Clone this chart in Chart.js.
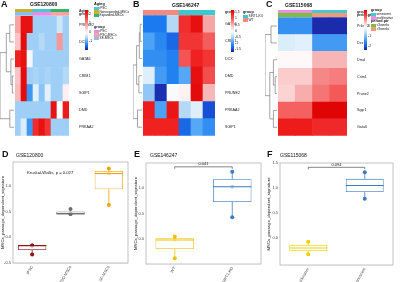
<!DOCTYPE html>
<html lang="en">
<head>
<meta charset="UTF-8" />
<title>Passage signature figure</title>
<script src="https://cdn.jsdelivr.net/npm/chart.js"></script>
<style>
  body { margin: 0; background: #fff; font-family: "Liberation Sans", Arial, sans-serif; }
  #wrap { position: relative; width: 400px; height: 282px; overflow: hidden; }
  canvas { position: absolute; }
  .t { position: absolute; white-space: nowrap; color: #111; line-height: 1; }
  .L { font-weight: bold; font-size: 9px; }
  .g { font-size: 5px; }
  .sw { position: absolute; }
</style>
</head>
<body>
<div id="wrap">
  <canvas id="cA" width="133" height="140" style="left:0;top:0"></canvas>
  <canvas id="cB" width="132" height="140" style="left:133px;top:0"></canvas>
  <canvas id="cC" width="135" height="140" style="left:265px;top:0"></canvas>
  <canvas id="cD" width="133" height="142" style="left:0;top:140px"></canvas>
  <canvas id="cE" width="133" height="142" style="left:133px;top:140px"></canvas>
  <canvas id="cF" width="134" height="142" style="left:266px;top:140px"></canvas>

  <div class="t L" style="left:1px;top:0px">A</div>
  <div class="t g" style="left:30px;top:2px;font-weight:bold">GSE120800</div>
  <div class="t L" style="left:133px;top:0px">B</div>
  <div class="t g" style="left:172px;top:3px;font-weight:bold">GSE146247</div>
  <div class="t L" style="left:266px;top:0px">C</div>
  <div class="t g" style="left:285px;top:3px;font-weight:bold">GSE115068</div>
  <div class="t L" style="left:2px;top:150px">D</div>
  <div class="t g" style="left:16px;top:153px">GSE120800</div>
  <div class="t L" style="left:134px;top:150px">E</div>
  <div class="t g" style="left:150px;top:153px">GSE146247</div>
  <div class="t L" style="left:267px;top:150px">F</div>
  <div class="t g" style="left:280px;top:153px">GSE115068</div>
  <div class="t" style="left:27px;top:171px;font-size:4.2px">Kruskal-Wallis, p = 0.027</div>
</div>

<script>
// ---- heatmap A (GSE120800) ----
const aGenes = ["PRUNE2", "DCX", "GATA6", "CRIM1", "SGIP1", "DMD", "PRKAA2"];
const aValues = [
  [0.9, 2.3, 2.3, -0.6, -0.6, -0.6, -0.6, -0.35, -0.6],
  [0.6, 2.4, -0.6, -0.6, -0.5, -0.6, -0.6, 1.0, -0.6],
  [2.1, 2.3, -0.1, -0.6, -0.6, -0.6, -0.6, -0.6, -0.6],
  [0.6, 2.4, -0.6, -0.55, -0.6, -0.55, -0.6, -0.6, -0.5],
  [0.7, 2.4, -1.1, -0.2, -0.7, -0.2, -0.6, -0.6, 0.15],
  [-0.6, -0.6, -0.6, -0.6, -0.6, -0.6, 2.3, 0.0, 2.2],
  [-0.6, -0.25, -1.1, 2.0, 2.3, 1.9, -0.6, -0.6, -0.6]
];
const aAging = ["Nonexpanded-MSCs", "Nonexpanded-MSCs", "Nonexpanded-MSCs", "iPSC", "iPSC", "iPSC", "Expanded-MSCs", "Expanded-MSCs", "Expanded-MSCs"];
const aGroup = ["SF-MSCs", "SF-MSCs", "SF-MSCs", "iPSC", "iPSC", "iPSC", "iPSC-MSCs", "iPSC-MSCs", "iPSC-MSCs"];
const aDendro = [[3, 4, 0.12], [2, 7, 0.22], [0, 1, 0.3], [9, 8, 0.55], [5, 6, 0.3], [10, 11, 1]];
const aScale = [-1.9, 2.55];
const aScaleTicks = [2, 1, 0, -1];

// ---- heatmap B (GSE146247) ----
const bGenes = ["GATA6", "CRIM1", "DCX", "DMD", "PRUNE2", "PRKAA2", "SGIP1"];
const bValues = [
  [-1.2, -1.2, -0.45, 1.35, 1.6, 0.6],
  [-0.9, -1.1, -1.3, 1.3, 1.3, 1.0],
  [-1.05, -1.05, -1.15, 1.05, 1.45, 1.3],
  [-0.2, -0.95, -1.15, -0.85, 1.6, 1.1],
  [-0.6, -1.6, -0.05, 0.1, 1.65, 0.5],
  [1.5, -0.9, 1.55, -0.45, -0.2, -1.45],
  [1.45, 1.45, 1.45, -1.3, -0.85, -1.05]
];
const bGroup = ["WT", "WT", "WT", "SIRT1-KO", "SIRT1-KO", "SIRT1-KO"];
const bDendro = [[0, 1, 0.2], [7, 2, 0.3], [3, 4, 0.35], [8, 9, 0.6], [5, 6, 0.5], [10, 11, 1]];
const bScale = [-1.7, 1.75];
const bScaleTicks = [1.5, 1, 0.5, 0, -0.5, -1, -1.5];

// ---- heatmap C (GSE115068) ----
const cGenes = ["Prkaa2", "Dcx", "Dmd", "Crim1", "Prune2", "Sgip1", "Gata6"];
const cValues = [
  [-1.4, -1.4, -2.2, -2.2],
  [-0.3, -0.25, -1.3, -1.3],
  [0.05, 0.05, 0.5, 0.5],
  [0.35, 0.35, 0.75, 0.8],
  [0.3, 0.55, 0.85, 1.0],
  [0.95, 0.95, 1.65, 1.65],
  [1.45, 1.45, 1.35, 1.35]
];
const cGroup = ["proliferative", "proliferative", "senescent", "senescent"];
const cPeriod = ["<3weeks", "<3weeks", ">3weeks", ">3weeks"];
const cDendro = [[0, 1, 0.5], [3, 4, 0.15], [2, 8, 0.3], [5, 6, 0.3], [9, 10, 0.6], [7, 11, 1]];
const cScale = [-2.3, 1.7];
const cScaleTicks = [1, 0, -1, -2];

// ---- boxplots ----
const dCats = ["iPSC", "iPSC-MSCs", "SF-MSCs"];
const dPoints = [[-0.16, -0.16, -0.335], [0.555, 0.458, 0.458], [1.342, 1.245, 0.632]];
const eCats = ["WT", "SIRT1-KO"];
const ePoints = [[0.052, -0.013, -0.368], [1.31, 1.02, 0.426]];
const eP = "0.041";
const fCats = ["proliferative", "senescent"];
const fPoints = [[-0.066, -0.316], [1.316, 0.789]];
const fP = "0.094";

// colours
const annotColors = {
  "iPSC": "#4cc6cf", "Nonexpanded-MSCs": "#c9b12e", "Expanded-MSCs": "#35b466",
  "iPSC-MSCs": "#f3a3a9", "SF-MSCs": "#8dbde9",
  "WT": "#f28a80", "SIRT1-KO": "#3cc8cc",
  "proliferative": "#e88fe3", "senescent": "#43c9cf",
  "<3weeks": "#7cbd3c", ">3weeks": "#f19a7a"
};
const groupAColors = { "iPSC": "#e090e6", "iPSC-MSCs": "#f3a3a9", "SF-MSCs": "#8dbde9" };

const family = '"Liberation Sans", Arial, sans-serif';
Chart.defaults.font.family = family;
Chart.defaults.animation = false;

const negStops = [[0, [255, 255, 255]], [0.25, [185, 220, 247]], [0.5, [85, 168, 245]], [0.7, [27, 124, 240]], [0.85, [23, 80, 216]], [1, [28, 28, 152]]];
const posStops = [[0, [255, 255, 255]], [0.3, [248, 180, 180]], [0.6, [244, 84, 84]], [0.85, [238, 28, 28]], [1, [220, 0, 0]]];

function ramp(stops, f) {
  f = Math.max(0, Math.min(1, f));
  for (let i = 1; i < stops.length; i++) {
    if (f <= stops[i][0]) {
      const [f0, c0] = stops[i - 1], [f1, c1] = stops[i];
      const k = (f - f0) / (f1 - f0);
      return "rgb(" + c0.map((c, j) => Math.round(c + (c1[j] - c) * k)).join(",") + ")";
    }
  }
  return "rgb(" + stops[stops.length - 1][1].join(",") + ")";
}
function heatColor(v, lim) {
  return v < 0 ? ramp(negStops, v / lim[0]) : ramp(posStops, v / lim[1]);
}

const dendroPlugin = {
  id: "dendro",
  afterDraw(chart, args, o) {
    const { ctx, chartArea } = chart;
    const y = chart.scales.y;
    const pos = [];
    for (let i = 0; i < o.n; i++) pos.push({ x: chartArea.left - 1, y: y.getPixelForValue(o.n - i - 0.5) });
    ctx.save();
    ctx.strokeStyle = "#666";
    ctx.lineWidth = 0.6;
    ctx.beginPath();
    o.merges.forEach(([a, b, h]) => {
      const x = chartArea.left - 1 - h * o.width;
      const pa = pos[a], pb = pos[b];
      ctx.moveTo(pa.x, pa.y); ctx.lineTo(x, pa.y); ctx.lineTo(x, pb.y); ctx.lineTo(pb.x, pb.y);
      pos.push({ x, y: (pa.y + pb.y) / 2 });
    });
    ctx.stroke();
    ctx.restore();
  }
};

function heatmap(id, genes, values, annots, lim, merges, lay) {
  const nR = genes.length, nC = values[0].length;
  const gap = 0.05;
  const datasets = [];
  for (let r = nR - 1; r >= 0; r--) {
    datasets.push({ data: Array(nC).fill(1), backgroundColor: values[r].map(v => heatColor(v, lim)) });
  }
  datasets.push({ data: Array(nC).fill(gap), backgroundColor: "rgba(0,0,0,0)" });
  const labels = {};
  genes.forEach((g, r) => { labels[(nR - r - 0.5).toFixed(3)] = g; });
  annots.slice().reverse().forEach((a, k) => {
    datasets.push({ data: Array(nC).fill(lay.annH), backgroundColor: a.values.map(v => a.colors[v]) });
    labels[(nR + gap + lay.annH * (k + 0.5)).toFixed(3)] = a.name;
  });
  const top = nR + gap + annots.length * lay.annH;
  return new Chart(document.getElementById(id), {
    type: "bar",
    data: { labels: values[0].map((_, i) => "s" + (i + 1)), datasets },
    options: {
      responsive: false,
      devicePixelRatio: 1,
      layout: { padding: { left: lay.left, top: lay.top, bottom: lay.bottom, right: 0 } },
      datasets: { bar: { barPercentage: 1, categoryPercentage: 1, borderWidth: 0 } },
      plugins: { legend: { display: false }, tooltip: { enabled: false },
        dendro: { n: nR, merges, width: lay.left - 1 } },
      scales: {
        x: { stacked: true, display: false },
        y: {
          stacked: true, position: "right", min: 0, max: top,
          grid: { display: false }, border: { display: false },
          afterBuildTicks: s => { s.ticks = Object.keys(labels).map(k => ({ value: parseFloat(k) })); },
          afterFit: s => { s.width = lay.right; },
          ticks: {
            autoSkip: false, padding: 2, color: "#222",
            font: ctx => ({ size: ctx.tick && ctx.tick.value > nR ? 3.4 : 3.7, weight: ctx.tick && ctx.tick.value > nR ? "bold" : "normal" }),
            callback: v => labels[v.toFixed(3)] || ""
          }
        }
      }
    },
    plugins: [dendroPlugin]
  });
}

heatmap("cA", aGenes, aValues,
  [{ name: "Aging", values: aAging, colors: annotColors }, { name: "group", values: aGroup, colors: groupAColors }],
  aScale, aDendro, { left: 15, top: 9, bottom: 2, right: 64, annH: 0.19 });
heatmap("cB", bGenes, bValues,
  [{ name: "group", values: bGroup, colors: annotColors }],
  bScale, bDendro, { left: 10, top: 10, bottom: 2, right: 50, annH: 0.28 });
heatmap("cC", cGenes, cValues,
  [{ name: "group", values: cGroup, colors: annotColors }, { name: "period.ptr", values: cPeriod, colors: annotColors }],
  cScale, cDendro, { left: 13, top: 10, bottom: 1, right: 53, annH: 0.2 });

// legends (HTML)
const wrap = document.getElementById("wrap");
function addText(x, y, txt, size, bold) {
  const d = document.createElement("div");
  d.className = "t"; d.textContent = txt;
  d.style.left = x + "px"; d.style.top = y + "px"; d.style.fontSize = size + "px";
  if (bold) d.style.fontWeight = "bold";
  wrap.appendChild(d);
}
function addBox(x, y, w, h, bg) {
  const d = document.createElement("div");
  d.className = "sw";
  Object.assign(d.style, { left: x + "px", top: y + "px", width: w + "px", height: h + "px", background: bg });
  wrap.appendChild(d);
}
function legendBlock(x, y, title, names, colors) {
  addText(x, y, title, 3.8, true);
  names.forEach((n, i) => {
    addBox(x, y + 4 + i * 3.3, 4.5, 3.3, colors[n]);
    addText(x + 5.5, y + 4.2 + i * 3.3, n, 3.2, false);
  });
}
function colorBar(x, y, h, lim, ticks) {
  const stops = [];
  for (let i = 0; i <= 20; i++) {
    const v = lim[1] - (lim[1] - lim[0]) * i / 20;
    stops.push(heatColor(v, lim) + " " + (i * 5) + "%");
  }
  addBox(x, y, 3, h, "linear-gradient(to bottom," + stops.join(",") + ")");
  ticks.forEach(t => {
    const py = y + h * (lim[1] - t) / (lim[1] - lim[0]);
    addText(x + 4, py - 1.7, String(t), 3.4, false);
  });
}
colorBar(85, 10, 40, aScale, aScaleTicks);
legendBlock(94, 3, "Aging", ["iPSC", "Nonexpanded-MSCs", "Expanded-MSCs"], annotColors);
legendBlock(94, 26, "group", ["iPSC", "iPSC-MSCs", "SF-MSCs"], groupAColors);
colorBar(231, 10, 42, bScale, bScaleTicks);
legendBlock(243, 11, "group", ["SIRT1-KO", "WT"], annotColors);
colorBar(364, 10, 40, cScale, cScaleTicks);
legendBlock(371, 9, "group", ["senescent", "proliferative"], annotColors);
legendBlock(371, 20, "period.ptr", ["<3weeks", ">3weeks"], annotColors);

// ---- boxplots ----
function quant(s, p) {
  const h = (s.length - 1) * p, lo = Math.floor(h), hi = Math.ceil(h);
  return s[lo] + (s[hi] - s[lo]) * (h - lo);
}
const boxPlugin = {
  id: "boxes",
  beforeDatasetsDraw(chart) {
    const a = chart.chartArea, ctx = chart.ctx;
    ctx.save(); ctx.fillStyle = "#fff"; ctx.fillRect(a.left, a.top, a.right - a.left, a.bottom - a.top); ctx.restore();
  },
  afterDatasetDraw(chart, args, o) {
    if (args.index !== 0) return;
    const ctx = chart.ctx, y = chart.scales.y;
    chart.getDatasetMeta(0).data.forEach((el, i) => {
      const s = o.stats[i];
      ctx.save();
      ctx.strokeStyle = o.colors[i];
      ctx.lineWidth = 0.8;
      ctx.beginPath();
      ctx.moveTo(el.x, y.getPixelForValue(s.q3)); ctx.lineTo(el.x, y.getPixelForValue(s.max));
      ctx.moveTo(el.x, y.getPixelForValue(s.q1)); ctx.lineTo(el.x, y.getPixelForValue(s.min));
      ctx.stroke();
      ctx.lineWidth = 1.1;
      ctx.beginPath();
      ctx.moveTo(el.x - el.width / 2, y.getPixelForValue(s.med)); ctx.lineTo(el.x + el.width / 2, y.getPixelForValue(s.med));
      ctx.stroke();
      ctx.restore();
    });
  },
  afterDraw(chart, args, o) {
    const a = chart.chartArea, ctx = chart.ctx;
    ctx.save();
    ctx.strokeStyle = "#b4b4b4"; ctx.lineWidth = 0.8;
    ctx.strokeRect(a.left, a.top, a.right - a.left, a.bottom - a.top);
    if (o.bracket) {
      const x0 = chart.scales.x.getPixelForValue(0), x1 = chart.scales.x.getPixelForValue(1);
      const yb = chart.scales.y.getPixelForValue(o.bracket.y);
      ctx.strokeStyle = "#333"; ctx.lineWidth = 0.6;
      ctx.beginPath();
      ctx.moveTo(x0, yb + 2); ctx.lineTo(x0, yb); ctx.lineTo(x1, yb); ctx.lineTo(x1, yb + 2);
      ctx.stroke();
      ctx.fillStyle = "#222"; ctx.font = "4px " + family; ctx.textAlign = "center"; ctx.textBaseline = "bottom";
      ctx.fillText(o.bracket.text, (x0 + x1) / 2, yb - 0.5);
    }
    ctx.restore();
  }
};

function boxChart(id, cats, pts, colors, range, lay, bracket) {
  const stats = pts.map(p => {
    const s = p.slice().sort((a, b) => a - b);
    return { q1: quant(s, 0.25), med: quant(s, 0.5), q3: quant(s, 0.75), min: s[0], max: s[s.length - 1] };
  });
  const scatter = [], ptColors = [];
  pts.forEach((p, i) => p.forEach(v => { scatter.push({ x: cats[i], y: v }); ptColors.push(colors[i]); }));
  return new Chart(document.getElementById(id), {
    type: "bar",
    data: {
      labels: cats,
      datasets: [
        { type: "bar", data: stats.map(s => [s.q1, s.q3]), backgroundColor: "rgba(255,255,255,0.7)",
          borderColor: colors, borderWidth: 0.8, borderSkipped: false, barPercentage: lay.box, categoryPercentage: 1 },
        { type: "line", data: scatter, showLine: false, pointRadius: 2, pointBackgroundColor: ptColors,
          pointBorderColor: ptColors, pointBorderWidth: 0 }
      ]
    },
    options: {
      responsive: false,
      devicePixelRatio: 1,
      layout: { padding: { left: 0, top: lay.top, right: lay.right, bottom: 0 } },
      plugins: { legend: { display: false }, tooltip: { enabled: false },
        boxes: { stats, colors, bracket } },
      scales: {
        x: {
          grid: { color: "#ececec", lineWidth: 0.6, drawTicks: false, offset: false }, border: { display: false },
          ticks: { font: { size: 4 }, color: "#444", minRotation: 60, maxRotation: 60, padding: 2 },
          afterFit: s => { s.height = lay.xH; }
        },
        y: {
          min: range[0], max: range[1],
          grid: { color: c => (c.tick && Math.abs(c.tick.value * 2 - Math.round(c.tick.value * 2)) < 1e-6) ? "#e4e4e4" : "#f2f2f2", lineWidth: 0.6, drawTicks: false },
          border: { display: false },
          ticks: { stepSize: 0.25, font: { size: 4 }, color: "#444", padding: 2,
            callback: v => Math.abs(v * 2 - Math.round(v * 2)) < 1e-6 ? v.toFixed(1) : "" },
          title: { display: true, text: "MSCs_passage_dependent_signature", font: { size: 4.3 }, padding: 0, color: "#222" },
          afterFit: s => { s.width = lay.yW; }
        }
      }
    },
    plugins: [boxPlugin]
  });
}

boxChart("cD", dCats, dPoints, ["#8b1414", "#6e6e6e", "#f0a30a"], [-0.5, 1.47], { top: 22, right: 5, xH: 19, yW: 13, box: 0.74 });
boxChart("cE", eCats, ePoints, ["#efc10a", "#3b7bbf"], [-0.48, 1.48], { top: 23, right: 5, xH: 18, yW: 13, box: 0.67 }, { y: 1.406, text: eP });
boxChart("cF", fCats, fPoints, ["#efd000", "#3b7bbf"], [-0.53, 1.5], { top: 23, right: 7, xH: 17, yW: 14, box: 0.67 }, { y: 1.414, text: fP });
</script>
</body>
</html>
